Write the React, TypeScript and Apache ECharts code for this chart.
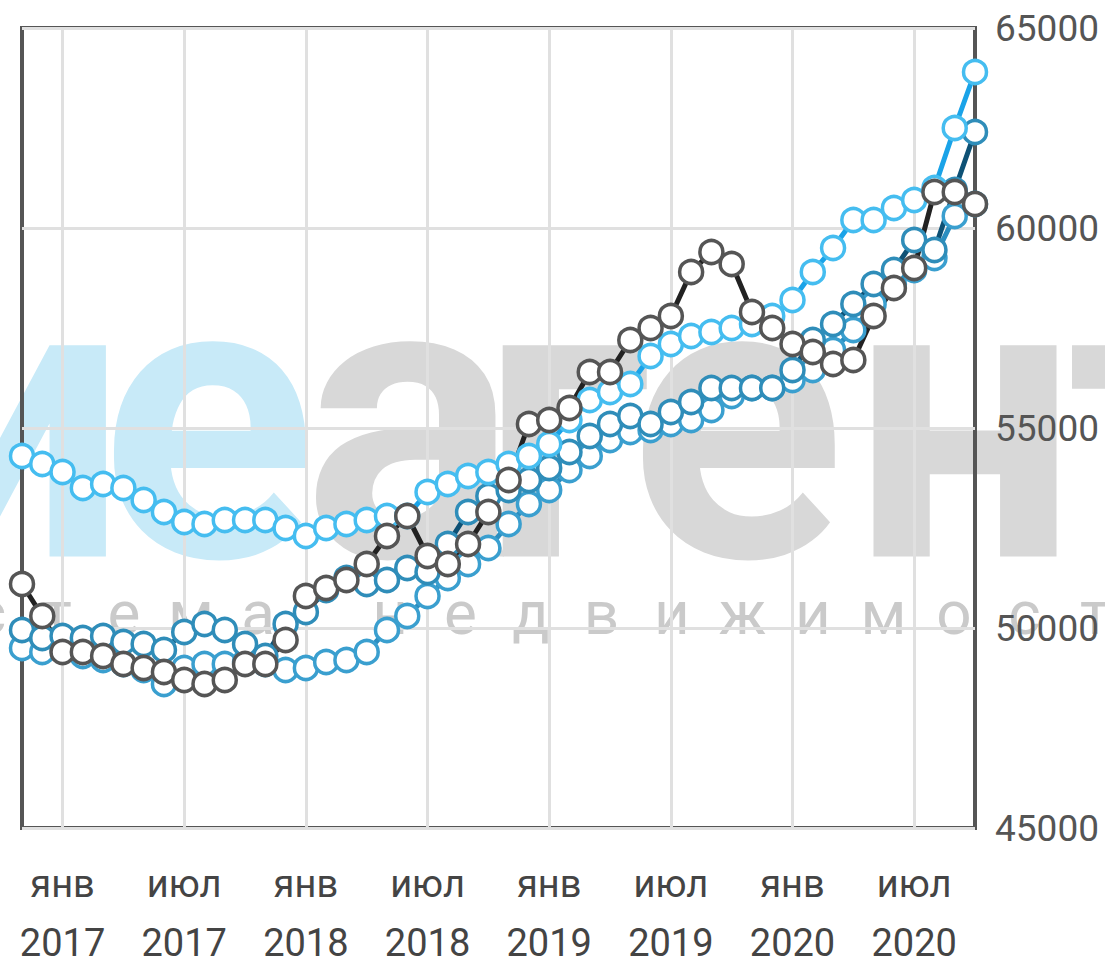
import React, { useEffect, useRef } from "react";
import * as echarts from "echarts";

// Months Nov 2016 .. Oct 2020 (48 monthly points)
const MONTH_NAMES = ["янв", "фев", "мар", "апр", "май", "июн", "июл", "авг", "сен", "окт", "ноя", "дек"];
const START_YEAR = 2016;
const START_MONTH = 10; // 0-based: November
const POINT_COUNT = 48;
const categories: string[] = Array.from({ length: POINT_COUNT }, (_, i) => {
  const m = START_MONTH + i;
  const y = START_YEAR + Math.floor(m / 12);
  const mm = m % 12;
  return `${y}-${String(mm + 1).padStart(2, "0")}`;
});

const seriesA = [54300, 54100, 53900, 53500, 53600, 53500, 53200, 52900, 52650, 52600, 52700, 52700, 52700, 52500, 52300, 52500, 52600, 52700, 52800, 52800, 53400, 53600, 53800, 53900, 54100, 54300, 54600, 55200, 55700, 55900, 56100, 56800, 57100, 57300, 57400, 57500, 57600, 57800, 58200, 58900, 59500, 60200, 60200, 60500, 60700, 61000, 62500, 63900];
const seriesB = [49500, 49400, 49450, 49300, 49200, 49100, 48950, 48600, 49000, 49100, 49100, 49150, 49100, 48950, 49000, 49150, 49200, 49400, 49950, 50300, 50800, 51250, 51600, 52000, 52600, 53100, 53450, 53950, 54300, 54700, 54900, 54950, 55100, 55200, 55450, 55800, 56000, 56000, 56200, 56450, 56950, 57450, 58100, 58600, 58950, 59250, 60300, 60600];
const seriesC = [49950, 49750, 49800, 49750, 49800, 49650, 49600, 49450, 49900, 50100, 49950, 49600, 49300, 50100, 50400, 50950, 51250, 51100, 51200, 51500, 51400, 52100, 52900, 53300, 53450, 53700, 54000, 54400, 54800, 55100, 55300, 55100, 55400, 55650, 56000, 56000, 56000, 56000, 56450, 57200, 57600, 58100, 58600, 58950, 59700, 59450, 60950, 62400];
const seriesD = [51100, 50300, 49400, 49400, 49300, 49100, 49000, 48900, 48700, 48600, 48700, 49100, 49100, 49700, 50800, 51000, 51200, 51600, 52300, 52800, 51800, 51600, 52100, 52900, 53700, 55100, 55200, 55500, 56400, 56400, 57200, 57500, 57800, 58900, 59400, 59100, 57900, 57500, 57100, 56900, 56600, 56700, 57800, 58500, 59000, 60900, 60900, 60600];

const Y_MIN = 45000;
const Y_MAX = 65000;
const Y_STEP = 5000;

const WATERMARK_BLUE = ["и", "е"];
const WATERMARK_GRAY = ["а", "г", "е", "н", "т"];
const SUB_WORD1 = "система";
const SUB_WORD2 = "недвижимости";

const FONT = "Roboto, 'Noto Sans', sans-serif";

function makeLine(name: string, data: number[], border: string, line: string) {
  return {
    name,
    type: "line",
    data,
    clip: false,
    symbol: "circle",
    symbolSize: 23,
    showSymbol: true,
    showAllSymbol: true,
    lineStyle: { color: line, width: 5 },
    itemStyle: { color: "#ffffff", borderColor: border, borderWidth: 3.5 },
    emphasis: { disabled: true },
  };
}

export default function App() {
  const ref = useRef<HTMLDivElement>(null);
  useEffect(() => {
    if (!ref.current) return;
    const chart = echarts.init(ref.current, undefined, { renderer: "svg" });
    const isLabelIdx = (idx: number) => {
      const m = (START_MONTH + idx) % 12;
      return m === 0 || m === 6;
    };

    const graphics: any[] = [];
    const bigFont = `bold 400px ${FONT}`;
    const bigBottom = 620;
    const blueX = [14, 208];
    WATERMARK_BLUE.forEach((ch, i) => {
      graphics.push({
        type: "text", z: -10, x: blueX[i], y: bigBottom,
        style: { text: ch, font: bigFont, fill: "#c8eaf8", textAlign: "center", textVerticalAlign: "bottom" },
      });
    });
    const grayX = [410, 565, 737, 965, 1168];
    WATERMARK_GRAY.forEach((ch, i) => {
      graphics.push({
        type: "text", z: -10, x: grayX[i], y: bigBottom,
        style: { text: ch, font: bigFont, fill: "#d8d8d8", textAlign: "center", textVerticalAlign: "bottom" },
      });
    });
    SUB_WORD1.split("").forEach((ch, i) => {
      graphics.push({
        type: "text", z: -10, x: 57 + (i - 3) * 67, y: 643,
        style: { text: ch, font: `62px ${FONT}`, fill: "#cacaca", textAlign: "center", textVerticalAlign: "bottom" },
      });
    });
    SUB_WORD2.split("").forEach((ch, i) => {
      graphics.push({
        type: "text", z: -10, x: 390 + i * 70.5, y: 643,
        style: { text: ch, font: `62px ${FONT}`, fill: "#cacaca", textAlign: "center", textVerticalAlign: "bottom" },
      });
    });

    chart.setOption({
      animation: false,
      backgroundColor: "#ffffff",
      graphic: graphics,
      grid: {
        left: 22, width: 953, top: 28, height: 800,
        show: true, borderColor: "#555555", borderWidth: 4, backgroundColor: "transparent",
      },
      xAxis: {
        type: "category",
        data: categories,
        boundaryGap: false,
        axisLine: { show: false },
        axisTick: { show: false },
        axisLabel: {
          interval: (idx: number) => isLabelIdx(idx),
          formatter: (val: string) => {
            const [y, m] = val.split("-");
            return `${MONTH_NAMES[parseInt(m, 10) - 1]}\n${y}`;
          },
          fontSize: 38, lineHeight: 59, color: "#444444", margin: 26, fontFamily: FONT,
        },
        splitLine: {
          show: true,
          interval: (idx: number) => isLabelIdx(idx),
          lineStyle: { color: "#e0e0e0", width: 3 },
        },
      },
      yAxis: {
        type: "value",
        position: "right",
        min: Y_MIN, max: Y_MAX, interval: Y_STEP,
        axisLine: { show: false },
        axisTick: { show: false },
        axisLabel: { fontSize: 37, color: "#555555", margin: 20, fontFamily: FONT, formatter: (v: number) => String(v) },
        splitLine: { show: true, lineStyle: { color: "#e0e0e0", width: 3 } },
      },
      series: [
        makeLine("B", seriesB, "#3a9fcf", "#2b8ec0"),
        makeLine("C", seriesC, "#2f8db9", "#0e5175"),
        makeLine("A", seriesA, "#45bdf0", "#1aa3e8"),
        makeLine("D", seriesD, "#555555", "#222222"),
      ],
    });
    return () => chart.dispose();
  }, []);
  return <div ref={ref} style={{ position: "fixed", left: 0, top: 0, width: 1105, height: 985 }} />;
}
